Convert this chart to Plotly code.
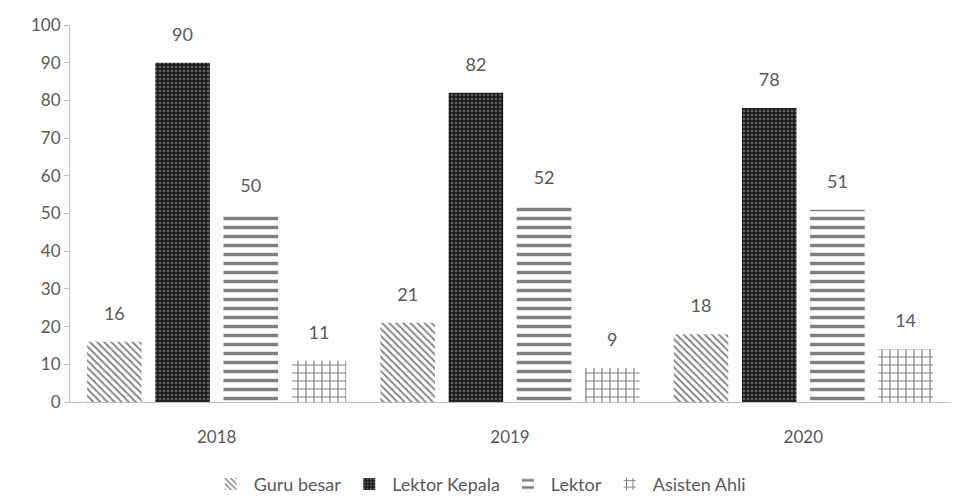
import plotly.graph_objects as go

years = ["2018", "2019", "2020"]
series_names = ["Guru besar", "Lektor Kepala", "Lektor", "Asisten Ahli"]
guru_besar = [16, 21, 18]
lektor_kepala = [90, 82, 78]
lektor = [50, 52, 51]
asisten_ahli = [11, 9, 14]
y_ticks = [0, 10, 20, 30, 40, 50, 60, 70, 80, 90, 100]

values = [guru_besar, lektor_kepala, lektor, asisten_ahli]
patterns = [
    dict(shape="\\", fgcolor="#000000", bgcolor="white", size=5, solidity=0.35),
    dict(shape=".", fgcolor="#a0a0a0", bgcolor="#1e1e1e", size=4, solidity=0.3),
    dict(shape="-", fgcolor="#000000", bgcolor="white", size=9, solidity=0.38),
    dict(shape="+", fgcolor="#000000", bgcolor="white", size=8, solidity=0.28),
]

fig = go.Figure()
for i, (name, vals, pat) in enumerate(zip(series_names, values, patterns)):
    fig.add_trace(go.Bar(
        x=years, y=vals, name=name, offsetgroup=str(i),
        marker=dict(color="white", pattern=pat, line=dict(width=0)),
    ))
for i, (name, vals) in enumerate(zip(series_names, values)):
    fig.add_trace(go.Scatter(
        x=years, y=vals, name=name, offsetgroup=str(i), mode="markers+text",
        marker=dict(size=26, opacity=0), text=vals, textposition="top center",
        textfont=dict(size=18, color="#595959"), showlegend=False,
        cliponaxis=False, hoverinfo="skip",
    ))

fig.update_layout(
    width=956, height=502,
    margin=dict(l=70, r=6, t=25, b=100, autoexpand=False),
    paper_bgcolor="white", plot_bgcolor="white",
    font=dict(family="Lato, Open Sans, sans-serif", color="#595959", size=17),
    barmode="group", bargap=0.07, bargroupgap=0.2,
    scattermode="group", scattergap=0.07,
    showlegend=True,
    legend=dict(orientation="h", x=0.465, xanchor="center", y=-0.218, yanchor="middle",
                font=dict(size=18, color="#595959"), itemwidth=36),
    xaxis=dict(showline=True, linecolor="#bfbfbf", linewidth=1, ticks="",
               ticklabelstandoff=20,
               tickfont=dict(size=17, color="#595959")),
    yaxis=dict(range=[0, 100], tickvals=y_ticks, showgrid=False, showline=True,
               linecolor="#bfbfbf", linewidth=1, ticks="outside", ticklen=5,
               tickcolor="#bfbfbf", tickfont=dict(size=17, color="#595959"),
               zeroline=False),
)

fig.write_html("out.html")
